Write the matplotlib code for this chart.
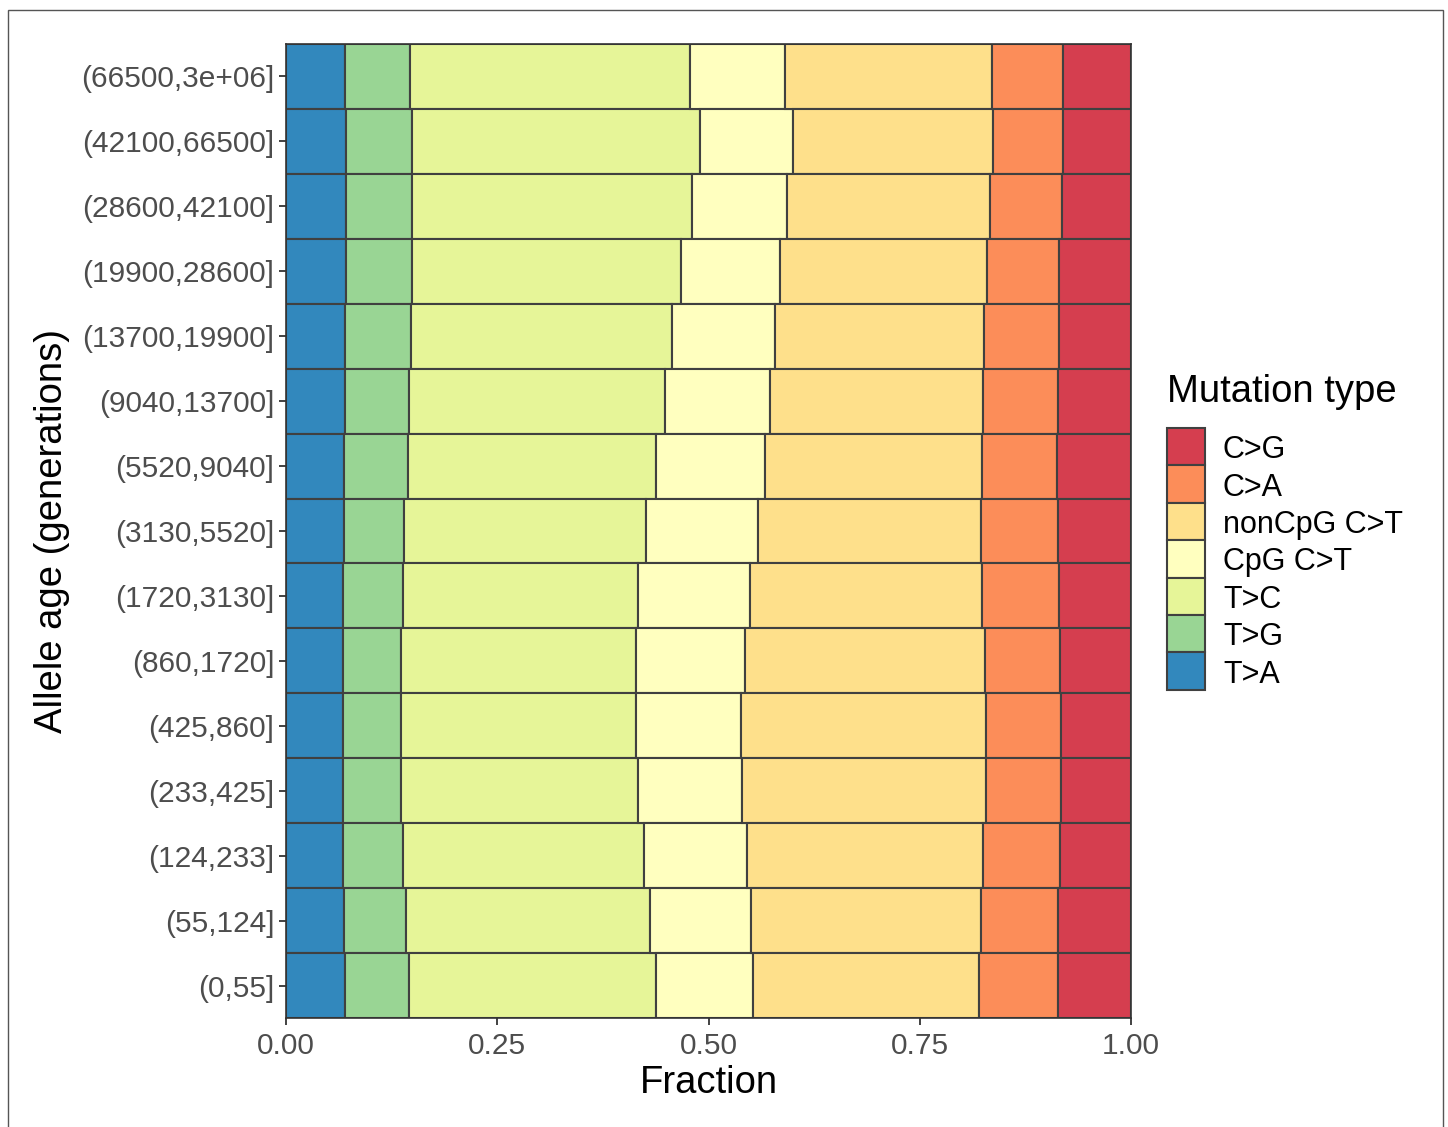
import matplotlib
matplotlib.use('Agg')
import matplotlib.pyplot as plt
from matplotlib.patches import Rectangle
import numpy as np

plt.rcParams['font.family'] = ['Liberation Sans', 'DejaVu Sans']

# allele age bins, top to bottom as drawn
age_bins = ['(66500,3e+06]', '(42100,66500]', '(28600,42100]', '(19900,28600]',
            '(13700,19900]', '(9040,13700]', '(5520,9040]', '(3130,5520]',
            '(1720,3130]', '(860,1720]', '(425,860]', '(233,425]',
            '(124,233]', '(55,124]', '(0,55]']

# fraction of each mutation type per bin (stack order left -> right)
frac_TA = [0.070, 0.071, 0.071, 0.071, 0.070, 0.070, 0.069, 0.069, 0.068, 0.067, 0.067, 0.067, 0.068, 0.069, 0.070]
frac_TG = [0.077, 0.078, 0.078, 0.078, 0.078, 0.076, 0.075, 0.071, 0.070, 0.069, 0.069, 0.069, 0.071, 0.073, 0.075]
frac_TC = [0.331, 0.341, 0.331, 0.319, 0.309, 0.303, 0.294, 0.286, 0.279, 0.278, 0.278, 0.280, 0.285, 0.289, 0.293]
frac_CpG = [0.112, 0.110, 0.113, 0.117, 0.122, 0.124, 0.129, 0.133, 0.132, 0.129, 0.125, 0.124, 0.121, 0.119, 0.115]
frac_nonCpG = [0.245, 0.237, 0.240, 0.244, 0.247, 0.252, 0.257, 0.263, 0.275, 0.284, 0.289, 0.288, 0.280, 0.272, 0.267]
frac_CA = [0.085, 0.083, 0.085, 0.086, 0.089, 0.089, 0.089, 0.092, 0.091, 0.089, 0.089, 0.089, 0.091, 0.092, 0.094]
frac_CG = [0.080, 0.080, 0.082, 0.085, 0.085, 0.086, 0.087, 0.086, 0.085, 0.084, 0.083, 0.083, 0.084, 0.086, 0.086]

mut_types = ['T>A', 'T>G', 'T>C', 'CpG C>T', 'nonCpG C>T', 'C>A', 'C>G']
colors = ['#3288BD', '#99D594', '#E6F598', '#FFFFBF', '#FEE08B', '#FC8D59', '#D53E4F']
series = [frac_TA, frac_TG, frac_TC, frac_CpG, frac_nonCpG, frac_CA, frac_CG]

W, H = 1448, 1127
edge = '#404040'


def fx(px):
    return px / W


def fy(py):
    return 1 - py / H


fig = plt.figure(figsize=(W / 100, H / 100), dpi=100)
ax = fig.add_axes([fx(286), fy(1018), (1131 - 286) / W, (1018 - 44) / H])

y = np.arange(len(age_bins))
left = np.zeros(len(age_bins))
for vals, col in zip(series, colors):
    vals = np.array(vals)
    ax.barh(y, vals, left=left, height=1.0, color=col, edgecolor=edge, linewidth=1.5)
    left += vals

ax.set_xlim(0, 1)
ax.set_ylim(len(age_bins) - 0.5, -0.5)
ax.set_yticks(y)
ax.set_yticklabels(age_bins)
ax.set_xticks([0, 0.25, 0.5, 0.75, 1.0])
ax.set_xticklabels(['0.00', '0.25', '0.50', '0.75', '1.00'])
ax.tick_params(axis='both', labelsize=21.5, labelcolor='#4D4D4D', color='#333333',
               length=5, width=1.3)
ax.tick_params(axis='y', pad=3.5)
ax.tick_params(axis='x', pad=5)
for sp in ax.spines.values():
    sp.set_color('#333333')
    sp.set_linewidth(1.2)

fig.text(fx(709), fy(1083), 'Fraction', fontsize=27.5, ha='center', va='center')
fig.text(fx(52), fy(531), 'Allele age (generations)', fontsize=27.5,
         rotation=90, ha='center', va='center')

# legend drawn by hand (ggplot style, keys stacked without gaps)
fig.text(fx(1167), fy(402), 'Mutation type', fontsize=27.5, ha='left', va='baseline')
key_top, key_h = 428, 37.4
for i, (lab, col) in enumerate(zip(mut_types[::-1], colors[::-1])):
    top = key_top + i * key_h
    fig.patches.append(Rectangle((fx(1167), fy(top + key_h)), 38 / W, key_h / H,
                                 transform=fig.transFigure, facecolor=col,
                                 edgecolor=edge, linewidth=1.5))
    fig.text(fx(1223), fy(top + key_h / 2), lab, fontsize=22, ha='left', va='center_baseline')

# outer border of the figure
fig.patches.append(Rectangle((fx(8), -0.01), (1443 - 8) / W, 1 - 10 / H + 0.01,
                             transform=fig.transFigure, fill=False,
                             edgecolor='#555555', linewidth=1.0))

fig.savefig('out.png', dpi=100)
